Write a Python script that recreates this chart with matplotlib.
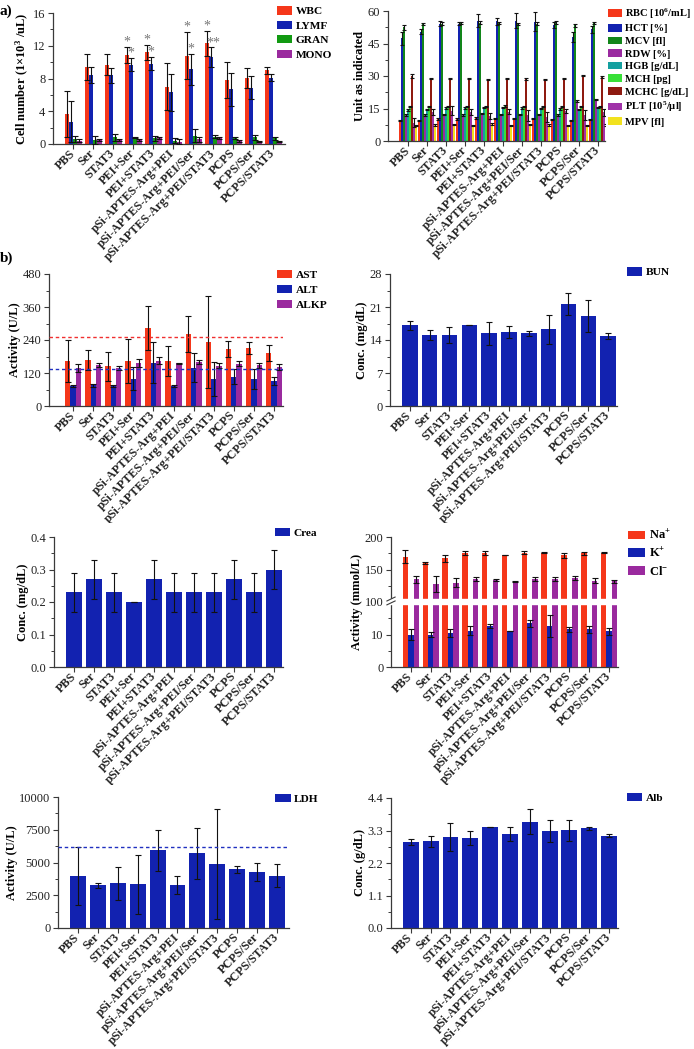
import numpy as np
import matplotlib
matplotlib.use("Agg")
import matplotlib.pyplot as plt
from matplotlib.ticker import AutoMinorLocator, FixedLocator, FormatStrFormatter
from matplotlib.transforms import Bbox, TransformedBbox
from matplotlib.patches import Rectangle

plt.rcParams['font.family'] = ['Liberation Serif', 'DejaVu Serif']
plt.rcParams['mathtext.fontset'] = 'custom'
plt.rcParams['mathtext.rm'] = 'Liberation Serif:bold'
plt.rcParams['mathtext.default'] = 'rm'

groups = ["PBS", "Ser", "STAT3", "PEI+Ser", "PEI+STAT3", "pSi-APTES-Arg+PEI",
          "pSi-APTES-Arg+PEI/Ser", "pSi-APTES-Arg+PEI/STAT3", "PCPS", "PCPS/Ser", "PCPS/STAT3"]

# a) white cells
wbc = [3.7, 9.4, 9.7, 10.9, 11.2, 7.0, 10.8, 12.3, 7.8, 8.1, 9.0]
wbc_err = [2.8, 1.6, 1.3, 1.0, 0.9, 2.9, 2.9, 1.5, 2.2, 1.2, 0.4]
lymf = [2.7, 8.4, 8.4, 9.7, 9.8, 6.3, 9.1, 10.6, 6.7, 6.9, 8.1]
lymf_err = [2.5, 1.0, 0.9, 0.8, 0.8, 2.3, 1.9, 1.2, 2.0, 1.4, 0.4]
gran = [0.6, 0.5, 0.8, 0.8, 0.7, 0.4, 1.0, 0.9, 0.7, 0.8, 0.7]
gran_err = [0.4, 0.5, 0.4, 0.1, 0.3, 0.3, 0.8, 0.2, 0.1, 0.3, 0.2]
mono = [0.4, 0.5, 0.5, 0.5, 0.7, 0.3, 0.6, 0.7, 0.4, 0.3, 0.3]
mono_err = [0.2, 0.1, 0.1, 0.1, 0.1, 0.3, 0.3, 0.1, 0.1, 0.1, 0.1]
star_idx = [3, 4, 6, 7]
wbc_stars = ["*", "*", "*", "*"]
lymf_stars = ["*", "*", "*", "**"]

# a) red cells
rbc = [9.4, 9.6, 10.2, 10.2, 10.6, 10.4, 10.5, 10.4, 10.0, 9.4, 9.9]
hct = [47.5, 50.5, 54.2, 54.2, 55.6, 55.2, 55.6, 55.0, 53.5, 48.0, 51.5]
hct_err = [3.0, 1.2, 1.2, 0.8, 3.2, 1.5, 3.6, 4.4, 1.5, 2.5, 1.5]
mcv = [52.5, 54.0, 54.2, 54.3, 54.6, 54.5, 54.0, 54.2, 54.8, 53.5, 54.4]
mcv_err = [1.2, 0.5, 0.6, 0.5, 0.6, 0.5, 0.6, 0.6, 0.8, 0.7, 0.5]
rdw = [12.0, 12.0, 12.3, 12.0, 12.8, 12.3, 12.2, 12.3, 12.0, 18.5, 19.2]
hgb = [14.3, 14.7, 15.3, 15.3, 15.5, 15.5, 15.3, 15.0, 14.8, 14.6, 15.4]
mch = [16.0, 15.9, 15.9, 15.8, 15.8, 16.2, 16.0, 15.9, 16.0, 15.9, 16.0]
mchc = [30.0, 29.0, 28.8, 28.7, 28.3, 29.0, 28.6, 28.3, 29.0, 30.2, 29.6]
mchc_err = [1.0, 0.3, 0.3, 0.3, 0.3, 0.3, 0.3, 0.3, 0.3, 0.3, 0.3]
plt_v = [8.5, 13.5, 14.0, 13.5, 11.5, 13.5, 11.8, 11.0, 14.0, 12.0, 13.2]
plt_err = [2.0, 1.5, 2.0, 1.5, 1.5, 1.2, 2.5, 2.2, 1.0, 2.5, 1.5]
mpv = [7.2, 7.4, 7.6, 7.3, 7.8, 7.2, 7.6, 7.4, 7.2, 7.3, 7.4]
small_err = [0.3] * 11

# b) liver enzymes
ast = [164, 166, 144, 164, 282, 164, 261, 233, 208, 211, 193]
ast_err = [76, 36, 54, 80, 80, 55, 65, 167, 29, 22, 30]
alt = [73, 75, 72, 100, 158, 73, 139, 98, 107, 97, 91]
alt_err = [3, 5, 4, 43, 76, 4, 52, 63, 28, 36, 16]
alkp = [137, 149, 139, 156, 165, 155, 160, 147, 154, 148, 142]
alkp_err = [15, 8, 8, 14, 12, 2, 8, 8, 8, 10, 10]
ast_ref = 250
alt_ref = 135

bun = [17.1, 15.1, 15.1, 17.1, 15.4, 15.7, 15.4, 16.3, 21.7, 19.1, 14.8]
bun_err = [1.0, 1.0, 1.7, 0, 2.5, 1.2, 0.6, 3.1, 2.3, 3.4, 0.6]

crea = [0.23, 0.27, 0.23, 0.20, 0.27, 0.23, 0.23, 0.23, 0.27, 0.23, 0.30]
crea_err = [0.06, 0.06, 0.06, 0, 0.06, 0.06, 0.06, 0.06, 0.06, 0.06, 0.06]

na = [170, 160, 167, 176, 176, 172, 176, 176, 172, 175, 176]
na_err = [10, 2, 6, 3, 3, 0, 2, 1, 4, 2, 1]
k = [10.0, 10.0, 10.5, 11.2, 12.7, 11.0, 13.4, 12.5, 11.6, 11.6, 11.0]
k_err = [1.6, 0.7, 1.3, 1.5, 0.6, 0, 1.2, 3.4, 0.8, 1.0, 1.0]
cl = [135, 128, 130, 136, 134, 132, 136, 136, 137, 133, 132]
cl_err = [5, 12, 7, 3, 2, 1, 3, 3, 3, 4, 2]

ldh = [3980, 3265, 3420, 3340, 5920, 3290, 5690, 4900, 4490, 4260, 3980]
ldh_err = [2200, 175, 1270, 2270, 1550, 660, 1960, 4180, 280, 710, 870]
ldh_ref = 6200

alb = [2.90, 2.93, 3.08, 3.04, 3.41, 3.18, 3.60, 3.28, 3.31, 3.37, 3.12]
alb_err = [0.1, 0.2, 0.46, 0.24, 0, 0.25, 0.42, 0.38, 0.35, 0.06, 0.05]

RED = '#f5371a'
BLUE = '#1222b0'
GREEN = '#129a12'
PURPLE = '#9a2a9e'
AXC = '#3a3a3a'

W, H = 694, 1049
fig = plt.figure(figsize=(W / 100, H / 100), dpi=100)
x = np.arange(len(groups))


def add_ax(x0, x1, y0, y1):
    return fig.add_axes([x0 / W, 1 - y1 / H, (x1 - x0) / W, (y1 - y0) / H])


def style(ax, yticks, ylim, ylabel, xlim=(-1.0, 10.45), fmt=None):
    for s in ['top', 'right']:
        ax.spines[s].set_visible(False)
    for s in ['left', 'bottom']:
        ax.spines[s].set_color(AXC)
        ax.spines[s].set_linewidth(0.9)
    ax.set_xlim(*xlim)
    ax.set_ylim(*ylim)
    ax.set_yticks(yticks)
    ax.yaxis.set_minor_locator(AutoMinorLocator(2))
    if fmt:
        ax.yaxis.set_major_formatter(FormatStrFormatter(fmt))
    ax.tick_params(axis='both', which='major', direction='out', length=3.5, width=0.8,
                   colors=AXC, labelsize=9, labelcolor='#222222', pad=2)
    ax.tick_params(axis='y', which='minor', direction='out', length=2, width=0.7, colors=AXC)
    ax.set_xticks(x)
    ax.set_xticklabels(groups, rotation=45, ha='right', va='center', rotation_mode='anchor',
                       fontweight='bold', fontsize=8.7)
    ax.set_ylabel(ylabel, fontweight='bold', fontsize=9, labelpad=1)


def bars(ax, series, errors, colors, labels, width=0.8, capsize=2):
    n = len(series)
    w = width / n
    for i in range(n):
        xs = x + (i - (n - 1) / 2) * w
        ax.bar(xs, series[i], w, color=colors[i], label=labels[i], zorder=2, linewidth=0)
        ax.errorbar(xs, series[i], yerr=errors[i], fmt='none', ecolor='#111111',
                    elinewidth=0.8, capsize=capsize, capthick=0.8, zorder=3)
    return w


def legend(ax, bx, by, size=8, spacing=0.35):
    ax.legend(loc='upper left', bbox_to_anchor=(bx, by), frameon=False,
              prop=dict(weight='bold', size=size), handlelength=1.35, handleheight=0.72,
              handletextpad=0.3, labelspacing=spacing, borderaxespad=0, borderpad=0)


# a) left
ax1 = add_ax(53, 285, 13, 144)
w1 = bars(ax1, [wbc, lymf, gran, mono], [wbc_err, lymf_err, gran_err, mono_err],
          [RED, BLUE, GREEN, PURPLE], ['WBC', 'LYMF', 'GRAN', 'MONO'], width=0.85)
style(ax1, [0, 4, 8, 12, 16], (0, 16), 'Cell number (1×10$^{3}$ /uL)', xlim=(-1.0, 10.6))
for j, gi in enumerate(star_idx):
    ax1.text(gi - 1.5 * w1, wbc[gi] + wbc_err[gi] + 0.15, wbc_stars[j], ha='center',
             va='baseline', fontsize=10, color='#777777')
    ax1.text(gi - 0.5 * w1 + (0.1 if len(lymf_stars[j]) > 1 else 0), lymf[gi] + lymf_err[gi] + 0.15,
             lymf_stars[j], ha='center', va='baseline', fontsize=10, color='#777777')
legend(ax1, 0.966, 1.05, size=8.2, spacing=0.38)

# a) right
ax2 = add_ax(388, 605, 11, 141)
bars(ax2, [rbc, hct, mcv, rdw, hgb, mch, mchc, plt_v, mpv],
     [small_err, hct_err, mcv_err, small_err, small_err, small_err, mchc_err, plt_err, small_err],
     [RED, BLUE, '#12861a', '#9a2aa0', '#14a0a0', '#38e038', '#8e1a10', '#a032a8', '#f2e21e'],
     ['RBC [10$^{6}$/mL]', 'HCT [%]', 'MCV [fl]', 'RDW [%]', 'HGB [g/dL]', 'MCH [pg]',
      'MCHC [g/dL]', 'PLT [10$^{5}$/µl]', 'MPV [fl]'], width=0.95, capsize=1.2)
style(ax2, [0, 15, 30, 45, 60], (0, 60), 'Unit as indicated', xlim=(-1.05, 10.35))
legend(ax2, 1.014, 1.035, size=7.6, spacing=0.3)

# b) AST/ALT/ALKP
ax3 = add_ax(49, 283, 274, 406)
bars(ax3, [ast, alt, alkp], [ast_err, alt_err, alkp_err], [RED, BLUE, PURPLE],
     ['AST', 'ALT', 'ALKP'], width=0.8)
style(ax3, [0, 120, 240, 360, 480], (0, 480), 'Activity (U/L)', xlim=(-1.2, 10.45))
ax3.axhline(ast_ref, color='#f03030', ls=(0, (2.5, 2)), lw=1.0, zorder=4)
ax3.axhline(alt_ref, color='#2030c0', ls=(0, (2.5, 2)), lw=1.0, zorder=4)
legend(ax3, 0.974, 1.03, size=8.2, spacing=0.42)

# BUN
ax4 = add_ax(390, 617, 274, 406)
bars(ax4, [bun], [bun_err], [BLUE], ['BUN'], width=0.78)
style(ax4, [0, 7, 14, 21, 28], (0, 28), 'Conc. (mg/dL)')
legend(ax4, 1.044, 1.05, size=8.2)

# Crea
ax5 = add_ax(54, 283, 537, 667)
bars(ax5, [crea], [crea_err], [BLUE], ['Crea'], width=0.8)
style(ax5, [0, 0.1, 0.2, 0.3, 0.4], (0, 0.4), 'Conc. (mg/dL)', fmt='%.1f')
legend(ax5, 0.965, 1.07, size=8.2)

# Na / K / Cl with broken axis
ax6 = add_ax(391, 618, 537, 667)


def brk_fwd(y):
    y = np.asarray(y, dtype=float)
    return np.where(y <= 20, y, np.where(y >= 100, 20 + (y - 100) * 0.2, 20))


def brk_inv(t):
    t = np.asarray(t, dtype=float)
    return np.where(t <= 20, t, 100 + (t - 20) * 5)


ax6.set_yscale('function', functions=(brk_fwd, brk_inv))
bars(ax6, [na, k, cl], [na_err, k_err, cl_err], [RED, BLUE, PURPLE],
     ['Na$^{+}$', 'K$^{+}$', 'Cl$^{-}$'], width=0.82)
style(ax6, [0, 10, 100, 150, 200], (0, 200), 'Activity (mmol/L)')
ax6.yaxis.set_major_locator(FixedLocator([0, 10, 100, 150, 200]))
ax6.yaxis.set_minor_locator(FixedLocator([5, 15, 125, 175]))
ax6.yaxis.set_major_formatter(FormatStrFormatter('%d'))
ax6.add_patch(Rectangle((-0.02, 0.488), 1.02, 0.032, transform=ax6.transAxes,
                        color='white', zorder=5, clip_on=False))
for yb in (0.478, 0.508):
    ax6.plot([-0.018, 0.018], [yb, yb + 0.03], transform=ax6.transAxes, color=AXC,
             lw=0.8, clip_on=False, zorder=6)
legend(ax6, 1.044, 1.06, size=9, spacing=0.36)

# LDH
ax7 = add_ax(58, 289, 797, 928)
bars(ax7, [ldh], [ldh_err], [BLUE], ['LDH'], width=0.8)
style(ax7, [0, 2500, 5000, 7500, 10000], (0, 10000), 'Activity (U/L)', xlim=(-1.0, 10.6))
ax7.axhline(ldh_ref, color='#2030c0', ls=(0, (2.5, 2)), lw=1.0, zorder=4)
legend(ax7, 0.94, 1.025, size=8.2)

# Alb
ax8 = add_ax(391, 618, 798, 928)
bars(ax8, [alb], [alb_err], [BLUE], ['Alb'], width=0.8)
style(ax8, [0, 1.1, 2.2, 3.3, 4.4], (0, 4.4), 'Conc. (g/dL)', fmt='%.1f')
legend(ax8, 1.04, 1.04, size=8.2)

fig.text(0.0, 1 - 11 / H, 'a)', fontweight='bold', fontsize=11, va='center', ha='left')
fig.text(0.0, 1 - 258 / H, 'b)', fontweight='bold', fontsize=11, va='center', ha='left')

# long tick labels are cut where the next row of panels begins
for axes_row, ycut in [((ax1, ax2), 263), ((ax3, ax4), 523), ((ax5, ax6), 785)]:
    clip = TransformedBbox(Bbox([[0, 1 - ycut / H], [1, 1]]), fig.transFigure)
    for ax in axes_row:
        for lbl in ax.get_xticklabels():
            lbl.set_clip_box(clip)
            lbl.set_clip_on(True)

fig.savefig('out.png', dpi=100, facecolor='white')
